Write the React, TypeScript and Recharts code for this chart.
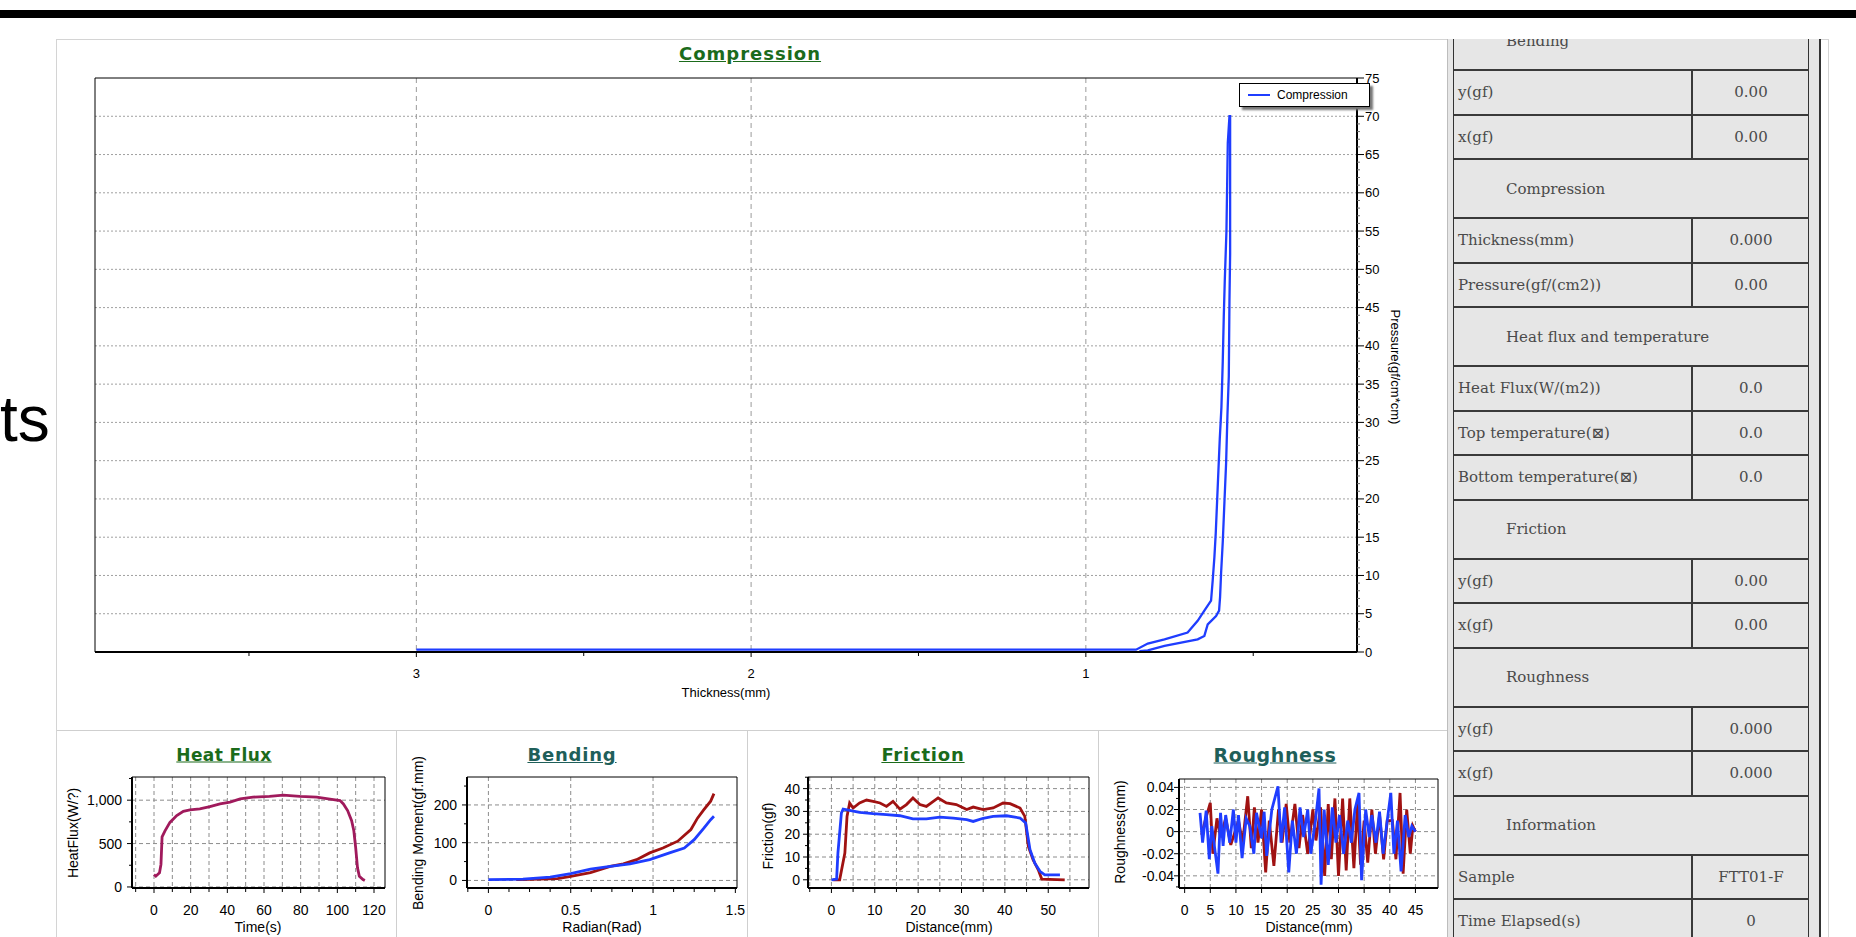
import React from 'react';
import {
  LineChart,
  Line,
  XAxis,
  YAxis,
  CartesianGrid,
  ReferenceArea,
  Legend,
} from 'recharts';

const FONT = '"Liberation Sans", Arial, sans-serif';
const TITLE_FONT = '"DejaVu Sans", Verdana, sans-serif';
const TABLE_FONT = '"DejaVu Serif", serif';

// ---- Compression: loading path then unloading path
const compThickness = [3.0, 2.0, 1.0, 0.85, 0.815, 0.765, 0.696, 0.666, 0.646, 0.626, 0.621, 0.616, 0.612, 0.608, 0.604, 0.6, 0.595, 0.591, 0.588, 0.585, 0.58, 0.576, 0.571, 0.569, 0.569, 0.571, 0.573, 0.577, 0.581, 0.586, 0.591, 0.596, 0.599, 0.602, 0.611, 0.636, 0.646, 0.666, 0.765, 0.815, 0.84];
const compPressure = [0.3, 0.3, 0.3, 0.3, 1.1, 1.66, 2.54, 4.08, 5.4, 6.7, 9.4, 12.4, 15.5, 19.6, 23.7, 27.8, 32, 38, 43.8, 48.5, 55, 66.5, 70, 70, 52, 46, 36, 31, 24.7, 19.6, 14.4, 10.3, 7.2, 5.4, 4.7, 3.6, 2.1, 1.66, 0.8, 0.2, 0.1];
const compXTicks = [0.5, 1, 1.5, 2, 2.5, 3, 3.5];
const compXLabels = [1, 2, 3];
const compYLabels = [0, 5, 10, 15, 20, 25, 30, 35, 40, 45, 50, 55, 60, 65, 70, 75];
const compYTicks = Array.from({ length: 76 }, (_, i) => i);

// ---- Heat flux
const hfTime = [0, 1, 3, 3.8, 4.4, 6, 8.7, 12.4, 16, 19.6, 25, 30.5, 36, 41.5, 47, 54, 63, 70.5, 79.6, 88.7, 96, 101.5, 103.3, 105.6, 107.8, 109, 110, 111, 112, 114, 115];
const hfValue = [143, 124, 163, 260, 577, 647, 744, 822, 872, 888, 899, 926, 957, 977, 1015, 1035, 1043, 1058, 1043, 1035, 1012, 996, 957, 880, 764, 647, 453, 221, 124, 85, 74];
const hfXTicks = [-10, 0, 10, 20, 30, 40, 50, 60, 70, 80, 90, 100, 110, 120];
const hfXLabels = [0, 20, 40, 60, 80, 100, 120];
const hfYTicks = [0, 250, 500, 750, 1000, 1250];
const hfYLabels = [0, 500, 1000];

// ---- Bending
const bendRedX = [0.17, 0.25, 0.42, 0.5, 0.62, 0.74, 0.82, 0.9, 0.98, 1.06, 1.15, 1.23, 1.27, 1.31, 1.35, 1.37];
const bendRedY = [2, 3, 5, 11, 21, 37, 44, 55, 73, 86, 104, 135, 165, 188, 210, 230];
const bendBlueX = [0, 0.21, 0.375, 0.5, 0.62, 0.74, 0.86, 0.98, 1.1, 1.19, 1.25, 1.31, 1.35, 1.37];
const bendBlueY = [2, 3.5, 9, 18, 30, 37, 44, 55, 73, 86, 108, 139, 161, 170];
const bendXTicks = [-0.125, 0, 0.125, 0.25, 0.375, 0.5, 0.625, 0.75, 0.875, 1, 1.125, 1.25, 1.375, 1.5];
const bendXLabels = [0, 0.5, 1, 1.5];
const bendYTicks = [0, 50, 100, 150, 200, 250];
const bendYLabels = [0, 100, 200];

// ---- Friction
const fricRedX = [0.4, 1.9, 3.1, 3.6, 4.2, 5, 6.5, 8.1, 9.6, 11.2, 12.7, 14.2, 15.8, 17.3, 18.8, 20.4, 21.9, 23.5, 24.6, 26.5, 28.8, 31.2, 32.7, 35, 37.3, 39.6, 41.2, 43.5, 44.6, 45.4, 46.5, 47.7, 48.5, 53.8];
const fricRedY = [0, 0, 11.7, 27.8, 33.7, 31.5, 33.7, 35, 34.4, 33.7, 32.2, 34.4, 31, 33, 35.9, 33, 32.2, 34.4, 35.9, 33.7, 33, 30.8, 31.9, 30.8, 31.5, 33.7, 33.4, 31.5, 27.8, 14.7, 8.8, 4.4, 0.3, 0];
const fricBlueX = [0, 1.2, 1.5, 2.3, 2.7, 4.2, 6.5, 9.6, 12.7, 15.8, 18.8, 21.9, 25, 28.1, 31.2, 32.7, 35, 37.3, 40.4, 43.5, 44.8, 45.8, 46.9, 48.1, 49.2, 52.7];
const fricBlueY = [0, 0.3, 11.7, 29.3, 31, 30.5, 29.6, 29, 28.6, 28.1, 26.7, 26.7, 27.5, 27.1, 26.4, 25.6, 27, 27.8, 28.1, 27.1, 24.9, 13.2, 7.3, 3.7, 2.2, 2.2];
const fricXTicks = [-5, 0, 5, 10, 15, 20, 25, 30, 35, 40, 45, 50, 55];
const fricXLabels = [0, 10, 20, 30, 40, 50];
const fricYTicks = [0, 5, 10, 15, 20, 25, 30, 35, 40, 45];
const fricYLabels = [0, 10, 20, 30, 40];

// ---- Roughness
const roughRedX = [3.3, 4.0, 5.0, 5.5, 6.3, 7.0, 8.0, 9.0, 10.5, 11.3, 12.3, 13.0, 13.6, 14.3, 15.0, 15.8, 16.5, 17.4, 18.3, 19.0, 19.8, 20.5, 21.5, 22.3, 23.0, 24.0, 25.0, 25.6, 26.5, 27.3, 28.0, 28.6, 29.3, 30.0, 30.8, 31.5, 32.2, 33.0, 33.7, 34.3, 35.0, 35.7, 36.5, 37.2, 38.0, 38.8, 39.5, 40.5, 41.2, 42.0, 42.6, 43.3, 44.0, 44.5, 45.0];
const roughRedY = [-0.003, 0.01, 0.026, -0.02, 0.012, -0.005, 0.012, -0.012, 0.01, -0.01, 0.032, -0.015, 0.022, -0.01, 0.02, -0.037, 0.01, -0.031, 0.02, -0.01, 0.025, -0.01, 0.025, -0.015, 0.015, -0.02, 0.02, -0.008, 0.022, -0.04, 0.025, -0.025, 0.03, -0.04, 0.03, -0.035, 0.03, -0.033, 0.025, -0.03, 0.01, -0.028, 0.02, -0.02, 0.015, -0.025, 0.01, 0.01, -0.025, 0.035, -0.038, 0.02, -0.02, 0.005, 0];
const roughBlueX = [3.0, 3.5, 4.2, 4.8, 5.3, 6.5, 7.0, 7.5, 8.0, 8.8, 9.5, 10.0, 10.5, 11.2, 12.0, 12.7, 13.5, 14.0, 15.0, 15.5, 16.0, 17.0, 18.2, 18.8, 19.5, 20.3, 21.0, 21.8, 22.5, 23.2, 24.0, 24.6, 25.5, 26.2, 26.6, 27.2, 28.0, 28.8, 29.5, 30.2, 31.0, 31.8, 32.5, 33.2, 34.0, 34.5, 35.3, 36.0, 36.5, 37.3, 38.0, 38.7, 39.5, 40.2, 40.8, 41.5, 42.2, 43.0, 43.7, 44.3, 45.0];
const roughBlueY = [0.017, -0.01, 0.019, -0.025, 0.005, -0.038, 0.017, -0.013, 0.015, -0.01, 0.02, -0.01, 0.015, -0.024, 0.012, 0.005, -0.02, 0.017, -0.006, 0.018, -0.022, 0.02, 0.041, -0.01, 0.022, -0.037, 0.01, -0.02, 0.022, -0.005, 0.02, -0.02, 0.01, 0.039, -0.048, 0.02, -0.03, 0.022, -0.01, 0.015, -0.02, 0.01, -0.01, 0.02, 0.035, -0.044, 0.02, -0.005, 0.015, -0.01, 0.018, -0.02, 0.01, 0.035, -0.02, 0.01, -0.036, 0.015, -0.005, 0.005, 0];
const roughXTicks = [0, 5, 10, 15, 20, 25, 30, 35, 40, 45];
const roughXLabels = [0, 5, 10, 15, 20, 25, 30, 35, 40, 45];
const roughYTicks = [-0.05, -0.04, -0.03, -0.02, -0.01, 0, 0.01, 0.02, 0.03, 0.04];
const roughYLabels = [-0.04, -0.02, 0, 0.02, 0.04];

// ---- Side table (null value = section header)
const tableLabels = ['Bending', 'y(gf)', 'x(gf)', 'Compression', 'Thickness(mm)', 'Pressure(gf/(cm2))', 'Heat flux and temperature', 'Heat Flux(W/(m2))', 'Top temperature(\u22A0)', 'Bottom temperature(\u22A0)', 'Friction', 'y(gf)', 'x(gf)', 'Roughness', 'y(gf)', 'x(gf)', 'Information', 'Sample', 'Time Elapsed(s)'];
const tableValues = [null, '0.00', '0.00', null, '0.000', '0.00', null, '0.0', '0.0', '0.0', null, '0.00', '0.00', null, '0.000', '0.000', null, 'FTT01-F', '0'];

const BLUE = '#1f3dff';
const RED = '#a01212';
const PLUM = '#a01a5c';
const GREEN = '#1b6b1b';
const TEAL = '#1f5f5a';

const zip = (xs: number[], ys: number[]) => xs.map((x, i) => ({ x, y: ys[i] }));
const isIn = (arr: number[], v: number) => arr.some((a) => Math.abs(a - v) < 1e-9);

const makeBottomTick = (labels: number[], fmt: (v: number) => string, fs: number, dy: number) =>
  (p: any) => {
    const v = p.payload.value;
    const on = isIn(labels, v);
    return (
      <g>
        <line x1={p.x} y1={p.y} x2={p.x} y2={p.y + (on ? 5 : 4)} stroke="#000" />
        {on && (
          <text x={p.x} y={p.y + dy} textAnchor="middle" dominantBaseline="central" fontSize={fs} fontFamily={FONT} fill="#000">
            {fmt(v)}
          </text>
        )}
      </g>
    );
  };

const makeLeftTick = (labels: number[], fmt: (v: number) => string, fs: number, gap: number) =>
  (p: any) => {
    const v = p.payload.value;
    const on = isIn(labels, v);
    return (
      <g>
        <line x1={p.x} y1={p.y} x2={p.x - (on ? 5 : 3)} y2={p.y} stroke="#000" />
        {on && (
          <text x={p.x - gap} y={p.y} textAnchor="end" dominantBaseline="central" fontSize={fs} fontFamily={FONT} fill="#000">
            {fmt(v)}
          </text>
        )}
      </g>
    );
  };

const compYTick = (p: any) => {
  const v = p.payload.value;
  const on = isIn(compYLabels, v);
  return (
    <g>
      <line x1={p.x} y1={p.y} x2={p.x + (on ? 7 : 3)} y2={p.y} stroke={on ? '#000' : '#666'} />
      {on && (
        <text x={p.x + 8} y={p.y} dominantBaseline="central" fontSize={13} fontFamily={FONT} fill="#000">
          {v}
        </text>
      )}
    </g>
  );
};

function Txt({ x, y, children, size = 14, rotate = 0, style = {} }: any) {
  return (
    <div
      style={{
        position: 'absolute',
        left: x,
        top: y,
        transform: `translate(-50%, -50%) rotate(${rotate}deg)`,
        whiteSpace: 'nowrap',
        lineHeight: 1,
        fontFamily: FONT,
        fontSize: size,
        color: '#000',
        ...style,
      }}
    >
      {children}
    </div>
  );
}

function Title({ x, y, color, children, size = 17.5, spacing = 0.5 }: any) {
  return (
    <Txt
      x={x}
      y={y}
      size={size}
      style={{ fontFamily: TITLE_FONT, fontWeight: 'bold', color, textDecoration: 'underline', letterSpacing: spacing }}
    >
      {children}
    </Txt>
  );
}

interface SmallProps {
  left: number;
  width: number;
  axisW: number;
  right: number;
  top: number;
  xDomain: [number, number];
  yDomain: [number, number];
  xTicks: number[];
  xLabels: number[];
  yTicks: number[];
  yLabels: number[];
  xGrid: number[];
  yGrid: number[];
  yFmt: (v: number) => string;
  xFmt: (v: number) => string;
  yGap: number;
  series: { data: { x: number; y: number }[]; color: string }[];
}

function SmallChart(p: SmallProps) {
  const H = 207;
  const plotBottom = 158;
  return (
    <div style={{ position: 'absolute', left: p.left, top: 730 }}>
      <LineChart width={p.width} height={H} margin={{ top: p.top, right: p.right, bottom: H - plotBottom - 30, left: 0 }}>
        <CartesianGrid horizontal={false} verticalValues={p.xGrid} stroke="#8c8c8c" strokeDasharray="4 3" />
        <CartesianGrid vertical={false} horizontalValues={p.yGrid} stroke="#8c8c8c" strokeDasharray="4 3" />
        <XAxis
          type="number"
          dataKey="x"
          domain={p.xDomain}
          allowDataOverflow
          ticks={p.xTicks}
          interval={0}
          tickSize={0}
          tickMargin={0}
          tickLine={false}
          height={30}
          axisLine={{ stroke: '#000', strokeWidth: 2 }}
          tick={makeBottomTick(p.xLabels, p.xFmt, 14, 22)}
        />
        <YAxis
          type="number"
          dataKey="y"
          domain={p.yDomain}
          allowDataOverflow
          ticks={p.yTicks}
          interval={0}
          tickSize={0}
          tickMargin={0}
          tickLine={false}
          width={p.axisW}
          axisLine={{ stroke: '#000', strokeWidth: 2 }}
          tick={makeLeftTick(p.yLabels, p.yFmt, 14, p.yGap)}
        />
        <ReferenceArea x1={p.xDomain[0]} x2={p.xDomain[1]} y1={p.yDomain[0]} y2={p.yDomain[1]} fill="none" stroke="#000" ifOverflow="visible" />
        {p.series.map((s, i) => (
          <Line key={i} data={s.data} dataKey="y" type="linear" stroke={s.color} strokeWidth={2.8} dot={false} isAnimationActive={false} />
        ))}
      </LineChart>
    </div>
  );
}

function SideTable() {
  let y = -27;
  const rows = tableLabels.map((label, i) => {
    const val = tableValues[i];
    const h = val === null ? 59 : 44.5;
    const top = y;
    y += h;
    return (
      <div
        key={i}
        style={{
          position: 'absolute',
          left: 0,
          top,
          width: 355,
          height: h,
          borderBottom: '2px solid #3a3a3a',
          boxSizing: 'border-box',
          display: 'flex',
          alignItems: 'center',
          fontFamily: TABLE_FONT,
          fontSize: 15,
          color: '#4a4a4a',
        }}
      >
        {val === null ? (
          <span style={{ paddingLeft: 52 }}>{label}</span>
        ) : (
          <>
            <span style={{ width: 237, paddingLeft: 4, boxSizing: 'border-box' }}>{label}</span>
            <span
              style={{
                flex: 1,
                height: '100%',
                borderLeft: '2px solid #3a3a3a',
                display: 'flex',
                alignItems: 'center',
                justifyContent: 'center',
              }}
            >
              {val}
            </span>
          </>
        )}
      </div>
    );
  });
  return (
    <div
      style={{
        position: 'absolute',
        left: 1447,
        top: 39,
        width: 374,
        height: 898,
        overflow: 'hidden',
        background: '#e6e6e6',
        borderLeft: '1px solid #bdbdbd',
        borderRight: '2px solid #333',
        boxSizing: 'border-box',
      }}
    >
      <div
        style={{
          position: 'absolute',
          left: 5,
          top: 0,
          width: 356,
          height: 898,
          borderLeft: '1px solid #333',
          borderRight: '1px solid #333',
          boxSizing: 'border-box',
        }}
      >
        {rows}
      </div>
    </div>
  );
}

export default function App() {
  const compData = zip(compThickness, compPressure);
  const fmtComma = (v: number) => v.toLocaleString('en-US');
  const fmtPlain = (v: number) => String(v);

  return (
    <div style={{ position: 'absolute', left: 0, top: 0, width: 1856, height: 937, overflow: 'hidden', background: '#fff' }}>
      {/* top bar */}
      <div style={{ position: 'absolute', left: 0, top: 10, width: 1856, height: 8, background: '#000' }} />
      {/* slide text fragment */}
      <div style={{ position: 'absolute', left: 0, top: 387, fontFamily: FONT, fontSize: 64, lineHeight: '64px', color: '#000' }}>ts</div>

      {/* panel frame */}
      <div style={{ position: 'absolute', left: 56, top: 39, width: 1773, height: 920, border: '1px solid #d4d4d4', boxSizing: 'border-box' }} />
      <div style={{ position: 'absolute', left: 57, top: 730, width: 1390, height: 1, background: '#cfcfcf' }} />
      <div style={{ position: 'absolute', left: 396, top: 730, width: 1, height: 207, background: '#cfcfcf' }} />
      <div style={{ position: 'absolute', left: 747, top: 730, width: 1, height: 207, background: '#cfcfcf' }} />
      <div style={{ position: 'absolute', left: 1098, top: 730, width: 1, height: 207, background: '#cfcfcf' }} />

      {/* main compression chart */}
      <div style={{ position: 'absolute', left: 57, top: 39 }}>
        <LineChart width={1390} height={691} margin={{ top: 39, right: 50, bottom: 48, left: 38 }}>
          <CartesianGrid horizontal={false} verticalValues={compXLabels} stroke="#9a9a9a" strokeDasharray="5 4" />
          <CartesianGrid vertical={false} horizontalValues={[5, 10, 15, 20, 25, 30, 35, 40, 45, 50, 55, 60, 65, 70]} stroke="#a0a0a0" strokeDasharray="2 2" />
          <XAxis
            type="number"
            dataKey="x"
            domain={[0.19, 3.96]}
            reversed
            allowDataOverflow
            ticks={compXTicks}
            interval={0}
            tickSize={0}
            tickMargin={0}
            tickLine={false}
            height={30}
            axisLine={{ stroke: '#000', strokeWidth: 2 }}
            tick={makeBottomTick(compXLabels, fmtPlain, 13, 21)}
          />
          <YAxis
            orientation="right"
            type="number"
            dataKey="y"
            domain={[0, 75]}
            allowDataOverflow
            ticks={compYTicks}
            interval={0}
            tickSize={0}
            tickMargin={0}
            tickLine={false}
            width={40}
            axisLine={{ stroke: '#000', strokeWidth: 2 }}
            tick={compYTick}
          />
          <ReferenceArea x1={0.19} x2={3.96} y1={0} y2={75} fill="none" stroke="#000" ifOverflow="visible" />
          <Legend
            verticalAlign="middle"
            align="center"
            wrapperStyle={{ left: 1182, top: 44, width: 133, height: 26 }}
            content={() => (
              <div
                style={{
                  width: 131,
                  height: 24,
                  boxSizing: 'border-box',
                  background: '#fff',
                  border: '1px solid #000',
                  boxShadow: '3px 3px 2px #777',
                  display: 'flex',
                  alignItems: 'center',
                  fontFamily: FONT,
                  fontSize: 12,
                }}
              >
                <span style={{ display: 'inline-block', width: 22, height: 2, background: BLUE, margin: '0 7px 0 8px' }} />
                Compression
              </div>
            )}
          />
          <Line data={compData} dataKey="y" name="Compression" type="linear" stroke={BLUE} strokeWidth={2.3} dot={false} isAnimationActive={false} />
        </LineChart>
      </div>
      <Title x={750} y={54} color={GREEN} size={18} spacing={1}>Compression</Title>
      <Txt x={726} y={692} size={13}>Thickness(mm)</Txt>
      <Txt x={1395} y={367} size={13} rotate={90}>Pressure(gf/cm*cm)</Txt>

      {/* Heat flux */}
      <SmallChart
        left={57} width={340} axisW={75} right={12} top={47}
        xDomain={[-12, 126]} yDomain={[-12, 1267]}
        xTicks={hfXTicks} xLabels={hfXLabels} yTicks={hfYTicks} yLabels={hfYLabels}
        xGrid={hfXTicks} yGrid={hfYLabels}
        xFmt={fmtPlain} yFmt={fmtComma} yGap={10}
        series={[{ data: zip(hfTime, hfValue), color: PLUM }]}
      />
      <Title x={224} y={755} color={GREEN} size={17} spacing={0.4}>Heat Flux</Title>
      <Txt x={258} y={927}>Time(s)</Txt>
      <Txt x={73} y={833} rotate={-90}>HeatFlux(W/?)</Txt>

      {/* Bending */}
      <SmallChart
        left={397} width={351} axisW={70} right={11} top={47}
        xDomain={[-0.13, 1.51]} yDomain={[-20, 274]}
        xTicks={bendXTicks} xLabels={bendXLabels} yTicks={bendYTicks} yLabels={bendYLabels}
        xGrid={[0, 0.5, 1]} yGrid={bendYLabels}
        xFmt={fmtPlain} yFmt={fmtPlain} yGap={10}
        series={[
          { data: zip(bendRedX, bendRedY), color: RED },
          { data: zip(bendBlueX, bendBlueY), color: BLUE },
        ]}
      />
      <Title x={572} y={755} color={TEAL} size={18} spacing={0.8}>Bending</Title>
      <Txt x={602} y={927}>Radian(Rad)</Txt>
      <Txt x={418} y={833} rotate={-90}>Bending Moment(gf.mm)</Txt>

      {/* Friction */}
      <SmallChart
        left={748} width={350} axisW={60} right={9} top={47}
        xDomain={[-5.4, 59.4]} yDomain={[-3.6, 45.1]}
        xTicks={fricXTicks} xLabels={fricXLabels} yTicks={fricYTicks} yLabels={fricYLabels}
        xGrid={fricXTicks} yGrid={fricYLabels}
        xFmt={fmtPlain} yFmt={fmtPlain} yGap={8}
        series={[
          { data: zip(fricRedX, fricRedY), color: RED },
          { data: zip(fricBlueX, fricBlueY), color: BLUE },
        ]}
      />
      <Title x={923} y={755} color={GREEN} size={18} spacing={0.8}>Friction</Title>
      <Txt x={949} y={927}>Distance(mm)</Txt>
      <Txt x={768} y={836} rotate={-90}>Friction(gf)</Txt>

      {/* Roughness */}
      <SmallChart
        left={1098} width={349} axisW={81} right={9} top={49}
        xDomain={[-1.1, 49.4]} yDomain={[-0.051, 0.0476]}
        xTicks={roughXTicks} xLabels={roughXLabels} yTicks={roughYTicks} yLabels={roughYLabels}
        xGrid={roughXTicks} yGrid={roughYLabels}
        xFmt={fmtPlain} yFmt={fmtPlain} yGap={5}
        series={[
          { data: zip(roughRedX, roughRedY), color: RED },
          { data: zip(roughBlueX, roughBlueY), color: BLUE },
        ]}
      />
      <Title x={1275} y={755} color={TEAL} size={19} spacing={0.6}>Roughness</Title>
      <Txt x={1309} y={927}>Distance(mm)</Txt>
      <Txt x={1120} y={832} rotate={-90}>Roughness(mm)</Txt>

      <SideTable />
    </div>
  );
}
